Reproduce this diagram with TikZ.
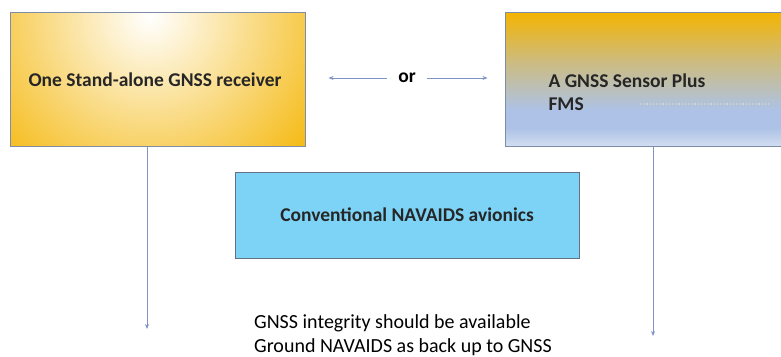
\documentclass[tikz,border=0pt]{standalone}
\usepackage{fontspec}
\setmainfont{Carlito}
\usetikzlibrary{arrows.meta}
\definecolor{boxedge}{HTML}{7F8CA6}
\definecolor{gold}{HTML}{F4B400}
\definecolor{paleblue}{HTML}{ADC2E6}
\definecolor{skyblue}{HTML}{7DD3F5}
\definecolor{arrowblue}{HTML}{7F93C6}
\tikzset{
  boxlabel/.style={font=\bfseries\fontsize{19.5}{23}\selectfont, text=black!85, align=left},
  thinarrow/.style={draw=arrowblue, line width=0.8pt, -{Stealth[length=5pt,width=4pt]}},
}
\begin{document}
\begin{tikzpicture}[x=1pt,y=-1pt]
\useasboundingbox (0,0) rectangle (781,356);
\clip (0,0) rectangle (781,356);
% left box
\begin{scope}
\clip (10,12) rectangle (305,146);
\fill[gold] (10,12) rectangle (305,146);
\shade[inner color=white, outer color=gold] (150,16) circle (220);
\end{scope}
\node[draw=boxedge, line width=1pt, minimum width=295pt, minimum height=134pt, inner sep=0] (left) at (157.5,79) {};
\node[boxlabel, anchor=base west] (lefttext) at (25,86) {One Stand-alone GNSS receiver};
% right box
\shade[top color=gold, bottom color=paleblue, middle color={gold!45!paleblue}] (505,12) rectangle (790,110);
\fill[paleblue] (505,110) rectangle (790,146);
\shade[top color=paleblue, bottom color=paleblue!55!white] (505,128) rectangle (790,146);
\node[draw=boxedge, line width=1pt, minimum width=285pt, minimum height=134pt, inner sep=0] (right) at (647.5,79) {};
\node[boxlabel, anchor=base west, font=\bfseries\fontsize{19.5}{23}\selectfont] (righttext) at (545,110) {A GNSS Sensor Plus\\FMS};
\draw[gray!35, dotted, line width=1.2pt] (640,104) -- (770,104);
% centre box
\node[draw=boxedge!80!black, line width=1pt, fill=skyblue, minimum width=344pt, minimum height=86pt, boxlabel] (centre) at (407,215) {Conventional NAVAIDS avionics};
% or
\node[font=\bfseries\fontsize{19.5}{23}\selectfont, inner xsep=11pt] (or) at (407,78) {or};
\draw[thinarrow, shorten >=23pt] (or.west) -- (left.east |- or.west);
\draw[thinarrow, shorten >=17pt] (or.east) -- (right.west |- or.east);
% verticals
\coordinate (leftend) at (147,329);
\coordinate (rightend) at (653,336);
\draw[thinarrow] (left.south -| leftend) -- (leftend);
\draw[thinarrow] (right.south -| rightend) -- (rightend);
% bottom text
\node[anchor=base west, align=left, font=\fontsize{20}{24}\selectfont, inner sep=0] (note) at (254,352) {GNSS integrity should be available\\Ground NAVAIDS as back up to GNSS};
\end{tikzpicture}
\end{document}
